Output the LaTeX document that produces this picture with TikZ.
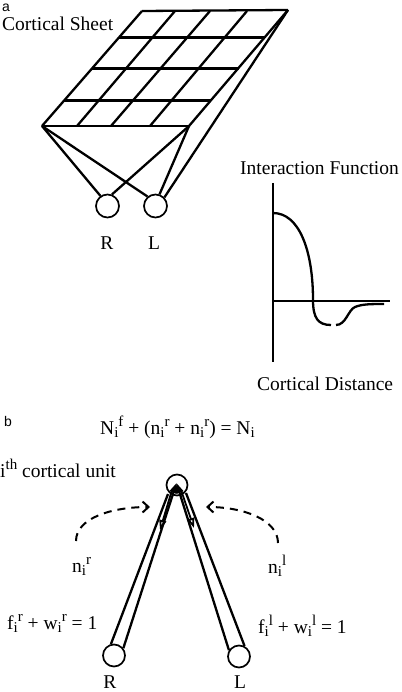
\documentclass[tikz,border=0pt]{standalone}
\usepackage{fontspec}
\setmainfont{Liberation Serif}
\newfontfamily\lsans{Liberation Sans}
\usetikzlibrary{arrows.meta}
\newcommand\ssb[1]{\raisebox{-0.4ex}{\fontsize{15}{15}\selectfont #1}}
\newcommand\ssp[1]{\raisebox{0.8ex}{\fontsize{15}{15}\selectfont #1}}
\begin{document}
\begin{tikzpicture}[x=1pt,y=-1pt,
  ln/.style={line width=2.3pt},
  eye/.style={circle,draw,line width=1.7pt,minimum size=23pt,inner sep=0pt},
  txt/.style={font=\fontsize{19.5}{21}\selectfont,inner sep=0pt},
  lab/.style={font=\lsans\fontsize{14}{15}\selectfont,inner sep=0pt},
  dsh/.style={line width=2pt,dash pattern=on 8pt off 6pt,-{Straight Barb[length=6pt,width=11pt,line width=2pt]}},
  dn/.style={line width=1.8pt,-{Triangle[open,length=10pt,width=7pt,line width=1.8pt]}},
  up/.style={line width=2.3pt,-{Triangle[length=10pt,width=8pt]}}]
\useasboundingbox (0,0) rectangle (401,692);
% ---------- part a ----------
\node[lab,anchor=base west] (la) at (2,12) {a};
\node[txt,anchor=base west] (cs) at (2,30.5) {Cortical Sheet};
\coordinate (TL) at (142,11);
\coordinate (TR) at (288,10);
\coordinate (BL) at (42,126);
\coordinate (BR) at (189,126);
% grid rows
\draw[ln] (TL) -- (TR);
\draw[ln] (119,37.5) -- (265,37.5);
\draw[ln] (92,68.5) -- (238.5,68.5);
\draw[ln] (64,100.5) -- (211,100.5);
\draw[ln] (BL) -- (BR);
% grid columns
\draw[ln] (TL) -- (BL);
\draw[ln] (175,11) -- (77,126);
\draw[ln] (210,11) -- (111,126);
\draw[ln] (247,11) -- (150,126);
\draw[ln] (TR) -- (BR);
% eyes
\node[eye] (Ra) at (107.5,206) {};
\node[eye] (La) at (155.5,206) {};
\draw[ln] (BL) -- (Ra.125);
\draw[ln] (BL) -- (La.130);
\draw[ln] (BR) -- (Ra.69);
\draw[ln] (BR) -- (La.71);
\draw[ln] (TR) -- (La.44);
\node[txt,anchor=base] (Rla) at (107,250) {R};
\node[txt,anchor=base] (Lla) at (154,250) {L};
% interaction function
\node[txt,anchor=base west] (ift) at (240,175) {Interaction Function};
\node[txt,anchor=base west] (cdt) at (257,390) {Cortical Distance};
\draw[ln] (273,183) -- (273,362);
\draw[ln] (273,301) -- (390,301);
\draw[ln] (273,213) .. controls (299,213) and (313,250) .. (313,300)
  .. controls (313,318) and (318,325) .. (331,325);
\draw[ln] (336,325) .. controls (346,325) and (348,310) .. (355,307)
  .. controls (362,304) and (372,304) .. (384,304);
% ---------- part b ----------
\node[lab,anchor=base west] (lb) at (4,426) {b};
\node[txt,anchor=base west] (eq) at (100,434)
  {N\ssb{i}\ssp{f} + (n\ssb{i}\ssp{r} + n\ssb{i}\ssp{r}) = N\ssb{i}};
\node[txt,anchor=base west] (unit) at (0,477) {i\ssp{th} cortical unit};
\node[eye,minimum size=21pt] (C) at (177,485) {};
\node[eye,minimum size=22pt] (Rb) at (114,655.5) {};
\node[eye,minimum size=22pt] (Lb) at (239,656.5) {};
\coordinate (lo) at (168,494);
\coordinate (ri) at (179,495);
\coordinate (ro) at (186,493);
\coordinate (tip) at (176.5,483);
% tubes
\draw[ln] (Rb.105) -- (lo);
\draw[up] (Rb.38) -- (tip);
\draw[up] (Lb.148) -- (tip);
\draw[ln] (Lb.62) -- (ro);
% inner arrows
\coordinate (la1) at (172,490);
\coordinate (la2) at (160,530);
\coordinate (ra1) at (181,490);
\coordinate (ra2) at (194,528);
\draw[dn] (la1) -- (la2);
\draw[dn] (ra1) -- (ra2);
% dashed arcs
\coordinate (ds1) at (76,541);
\coordinate (de1) at (150,507);
\coordinate (ds2) at (278,543);
\coordinate (de2) at (206,507);
\draw[dsh] (ds1) .. controls (76,518) and (112,507) .. (de1);
\draw[dsh] (ds2) .. controls (278,520) and (244,507) .. (de2);
% labels
\node[txt,anchor=base west] (nr) at (72,572) {n\ssb{i}\ssp{r}};
\node[txt,anchor=base west] (nl) at (268,573) {n\ssb{i}\ssp{l}};
\node[txt,anchor=base west] (fr) at (7,629) {f\ssb{i}\ssp{r} + w\ssb{i}\ssp{r} = 1};
\node[txt,anchor=base west] (fl) at (258,633) {f\ssb{i}\ssp{l} + w\ssb{i}\ssp{l} = 1};
\node[txt,anchor=base] (Rlb) at (110,688) {R};
\node[txt,anchor=base] (Llb) at (240,688) {L};
\end{tikzpicture}
\end{document}
